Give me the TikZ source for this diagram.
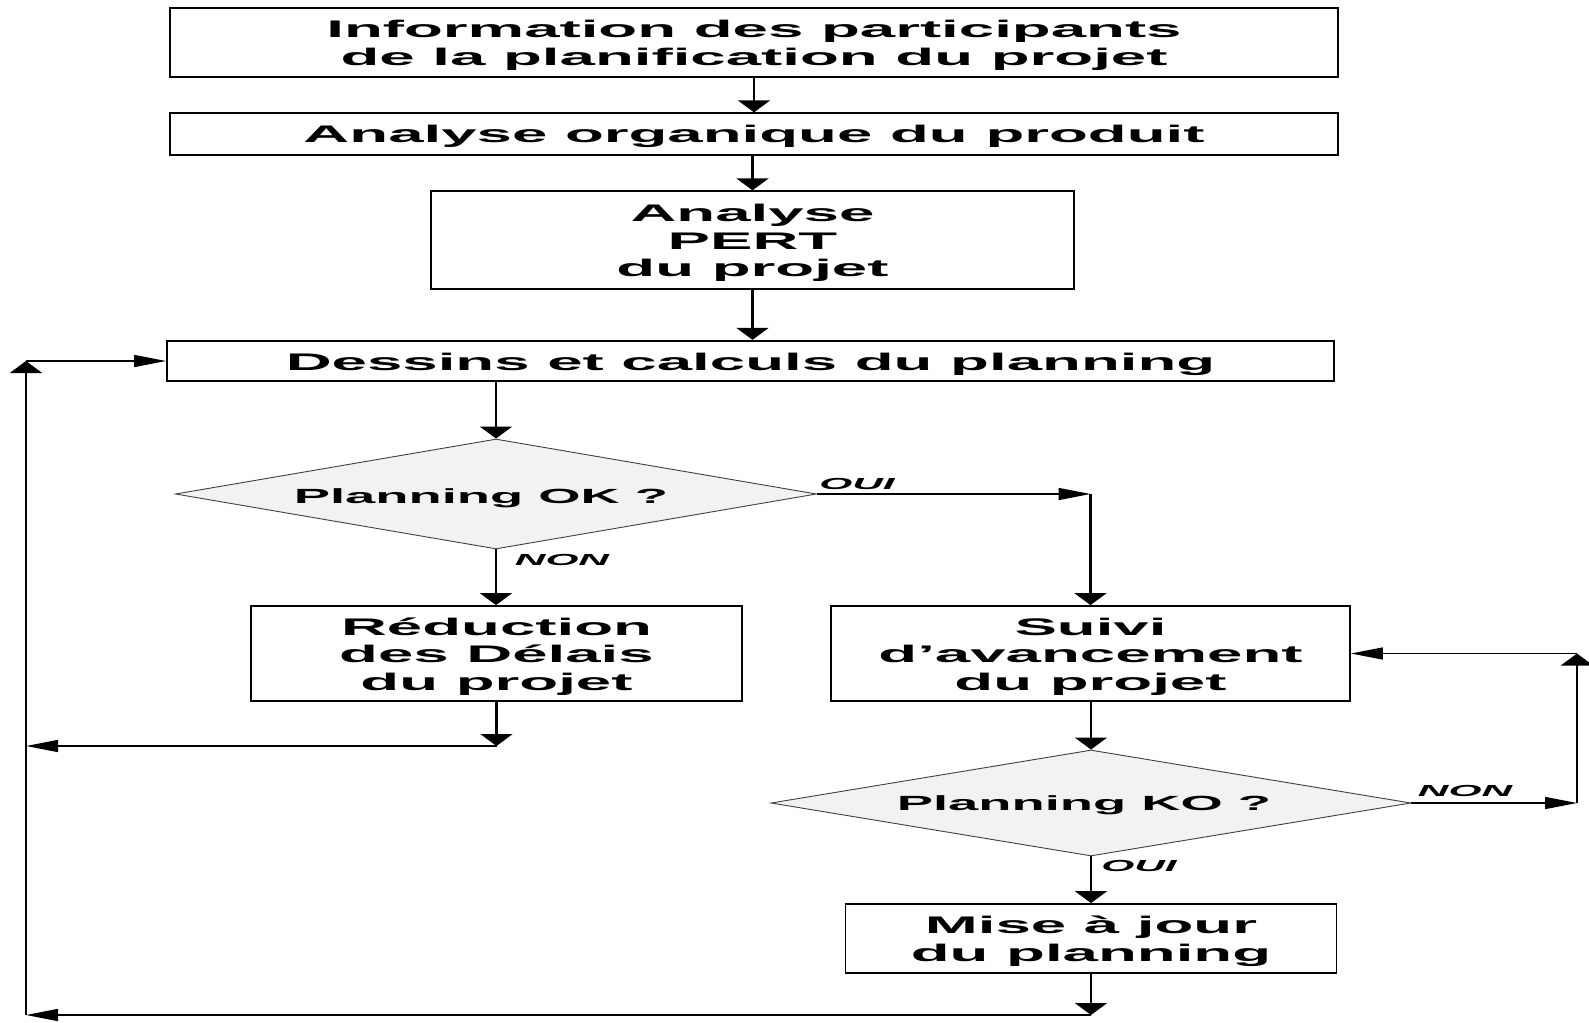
\documentclass[tikz,border=0pt]{standalone}
\usepackage{fontspec}
\usetikzlibrary{shapes.geometric,arrows.meta}
\newfontfamily\wfont[FakeStretch=2.65]{Liberation Sans}
\begin{document}
\begin{tikzpicture}[x=1pt,y=-1pt,
  box/.style={draw=black,line width=1.8pt,inner sep=0pt},
  boxtext/.style={inner sep=0pt,align=center,
    font={\wfont\bfseries\fontsize{24pt}{27.5pt}\selectfont}},
  dia/.style={diamond,draw=black!75,line width=0.9pt,fill=black!5,inner sep=0pt},
  diatext/.style={font={\wfont\bfseries\fontsize{20.5pt}{24pt}\selectfont}},
  lab/.style={inner sep=0pt,font={\wfont\bfseries\itshape\fontsize{16pt}{18pt}\selectfont}},
  vline/.style={line width=2.4pt},
  hline/.style={line width=1.5pt},
  varr/.style={-{Triangle[length=12pt,width=32pt]}},
  harr/.style={-{Triangle[length=32pt,width=12pt]}}]
\useasboundingbox (0,0) rectangle (1589,1022);
% boxes
\node[box,minimum width=1168pt,minimum height=69pt] (b1) at (754,42.5) {};
\node[boxtext] (b1t) at (754,45.5) {Information des participants\\de la planification du projet};
\node[box,minimum width=1168pt,minimum height=41.5pt] (b2) at (754,134) {};
\node[boxtext] (b2t) at (754,136.5) {Analyse organique du produit};
\node[box,minimum width=643pt,minimum height=97.5pt] (b3) at (752.5,240) {};
\node[boxtext] (b3t) at (752.5,243) {Analyse\\PERT\\du projet};
\node[box,minimum width=1167pt,minimum height=40.5pt] (b4) at (750.5,361) {};
\node[boxtext] (b4t) at (750.5,364) {Dessins et calculs du planning};
\node[dia,minimum width=641pt,minimum height=110pt] (d1) at (496,494) {};
\node[diatext] (t1) at (481,498) {Planning OK ?};
\node[box,minimum width=491pt,minimum height=95pt] (b5) at (496.5,653.5) {};
\node[boxtext] (b5t) at (496.5,656.5) {Réduction\\des Délais\\du projet};
\node[box,minimum width=519pt,minimum height=95pt] (b6) at (1090.5,653.5) {};
\node[boxtext] (b6t) at (1090.5,656.5) {Suivi\\d’avancement\\du projet};
\node[dia,minimum width=640pt,minimum height=106pt] (d2) at (1091,803) {};
\node[diatext] (t2) at (1084,805.5) {Planning KO ?};
\node[box,minimum width=491pt,minimum height=69pt] (b7) at (1091,938.5) {};
\node[boxtext] (b7t) at (1091,941) {Mise à jour\\du planning};
% labels
\node[lab] (oui1) at (857,483.5) {OUI};
\node[lab] (non1) at (562,560) {NON};
\node[lab] (oui2) at (1139,865.5) {OUI};
\node[lab] (non2) at (1465,791) {NON};
% helper coordinates
\coordinate (c1) at (b6.north |- d1.east);
\coordinate (c2) at (496.5,746);
\coordinate (c3) at (26,746);
\coordinate (c4) at (1577,803);
\coordinate (c5) at (1577,653.5);
\coordinate (c6) at (b7.south |- 0,1015);
\coordinate (c7) at (26,1015);
\coordinate (c8) at (26,361);
% connectors
\draw[vline,varr] (b1.south) -- (b2.north);
\draw[vline,varr] (b2.south -| b3.north) -- (b3.north);
\draw[vline,varr] (b3.south) -- (b3.south |- b4.north);
\draw[vline,varr] (d1.north |- b4.south) -- (d1.north);
\draw[vline,varr] (d1.south) -- (d1.south |- b5.north);
\draw[hline,harr] (d1.east) -- (c1);
\draw[vline,varr] (c1) -- (b6.north);
\draw[vline,varr] (b5.south) -- (c2);
\draw[hline,harr] (c2) -- (c3);
\draw[vline,varr] (d2.north |- b6.south) -- (d2.north);
\draw[vline,varr] (d2.south) -- (b7.north);
\draw[hline,harr] (d2.east) -- (c4);
\draw[vline,varr] (c4) -- (c5);
\draw[hline,harr] (c5) -- (b6.east);
\draw[vline,varr] (b7.south) -- (c6);
\draw[hline,harr] (c6) -- (c7);
\draw[vline,varr] (c7) -- (c8);
\draw[hline,harr] (c8) -- (b4.west);
\end{tikzpicture}
\end{document}
